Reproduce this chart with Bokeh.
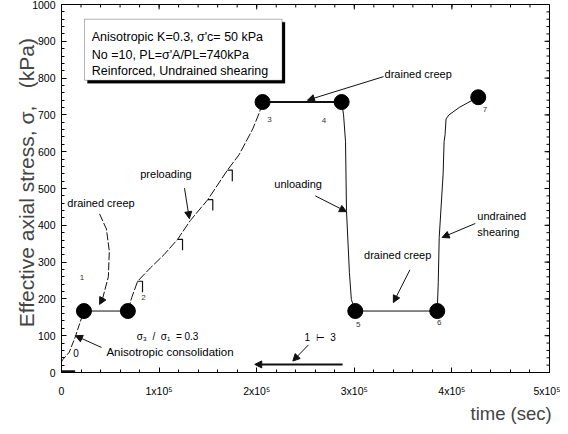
from bokeh.plotting import figure
from bokeh.models import Range1d, Label, Arrow, NormalHead, BoxAnnotation, FixedTicker
from bokeh.embed import file_html
from bokeh.resources import INLINE

# ---------------- data (time in s, effective axial stress in kPa) ----------------
consol_t = [0, 1.3e3, 7.9e3, 1.4e4, 1.9e4, 2.3e4]
consol_s = [29, 35, 55, 96, 136, 167]

creep1_t = [2.3e4, 6.8e4]
creep1_s = [167, 167]

preload_t = [6.8e4, 7.2e4, 7.8e4, 9.1e4, 1.05e5, 1.19e5, 1.32e5, 1.50e5, 1.70e5, 1.82e5, 1.96e5, 2.03e5, 2.06e5]
preload_s = [167, 204, 248, 284, 320, 362, 413, 470, 550, 592, 662, 708, 735]

step_t = [7.8e4, 1.19e5, 1.50e5, 1.70e5]
step_s = [248, 362, 470, 550]

creep2_t = [2.06e5, 2.87e5]
creep2_s = [735, 735]

unload_t = [2.87e5, 2.89e5, 2.91e5, 2.92e5, 2.95e5, 2.97e5, 3.01e5]
unload_s = [735, 700, 627, 440, 271, 198, 167]

creep3_t = [3.01e5, 3.85e5]
creep3_s = [167, 167]

shear_t = [3.85e5, 3.86e5, 3.87e5, 3.91e5, 3.92e5, 3.93e5, 3.94e5, 3.97e5, 4.08e5, 4.21e5, 4.27e5]
shear_s = [167, 244, 367, 539, 627, 646, 689, 700, 721, 740, 748]

base_t = [0, 1.4e4]
base_s = [3, 3]

points_t = [2.3e4, 6.8e4, 2.06e5, 2.87e5, 3.01e5, 3.85e5, 4.27e5]
points_s = [167, 167, 735, 735, 167, 167, 748]

x_ticks = [0, 1e5, 2e5, 3e5, 4e5, 5e5]
x_tick_labels = ["0", "1x10\u2075", "2x10\u2075", "3x10\u2075", "4x10\u2075", "5x10\u2075"]
x_minor = list(range(0, 500001, 20000))
y_ticks = list(range(0, 1001, 100))
y_minor = list(range(0, 1001, 20))

FONT = "Liberation Sans"
INK = "#111111"
NB = "\u00a0"

X0, X1, Y0, Y1 = 0, 5e5, 0, 1000
p = figure(width=560, height=426, x_range=Range1d(X0, X1), y_range=Range1d(Y0, Y1),
           output_backend="svg", toolbar_location=None,
           min_border_left=61, min_border_right=11, min_border_top=4, min_border_bottom=50)
p.grid.visible = False
p.outline_line_color = "black"
p.background_fill_color = "white"
p.border_fill_color = "white"

xa = p.xaxis[0]
ya = p.yaxis[0]
xa.ticker = FixedTicker(ticks=x_ticks, minor_ticks=x_minor)
xa.major_label_overrides = {int(t): l for t, l in zip(x_ticks, x_tick_labels)}
ya.ticker = FixedTicker(ticks=y_ticks, minor_ticks=y_minor)
ya.axis_label = NB * 2 + "Effective axial stress, \u03c3," + NB * 3 + "(kPa)"
ya.axis_label_text_font = FONT
ya.axis_label_text_font_style = "normal"
ya.axis_label_text_font_size = "21px"
ya.axis_label_standoff = -9

xa.axis_label = NB * 80 + "time (sec)"
xa.axis_label_text_font = FONT
xa.axis_label_text_font_style = "normal"
xa.axis_label_text_font_size = "18.5px"
xa.axis_label_standoff = 3

for ax in [xa, ya]:
    ax.major_tick_in = 5
    ax.major_tick_out = 0
    ax.minor_tick_in = 3
    ax.minor_tick_out = 0
    ax.axis_line_color = "black"
    ax.major_tick_line_color = "black"
    ax.minor_tick_line_color = "black"
    ax.major_label_text_font = FONT
    ax.major_label_text_color = "black"
    ax.major_label_text_font_size = "10.5px"
xa.major_label_standoff = 12
ya.major_label_standoff = 6

# mirrored inward ticks on the top and right frame edges (5 px major, 3 px minor)
px_x = (X1 - X0) / 488.0
px_y = (Y1 - Y0) / 372.0
p.segment(x_ticks, [Y1] * len(x_ticks), x_ticks, [Y1 - 5 * px_y] * len(x_ticks), line_color="black", line_width=1)
p.segment(x_minor, [Y1] * len(x_minor), x_minor, [Y1 - 3 * px_y] * len(x_minor), line_color="black", line_width=1)
p.segment([X1] * len(y_ticks), y_ticks, [X1 - 5 * px_x] * len(y_ticks), y_ticks, line_color="black", line_width=1)
p.segment([X1] * len(y_minor), y_minor, [X1 - 3 * px_x] * len(y_minor), y_minor, line_color="black", line_width=1)

# ---------------- curves ----------------
p.line(consol_t, consol_s, line_color=INK, line_width=1, line_dash="7 2")
p.line(creep1_t, creep1_s, line_color=INK, line_width=1)
p.line(preload_t, preload_s, line_color=INK, line_width=1, line_dash="9 2")
p.multi_line([[t, t + 5e3, t + 5e3] for t in step_t], [[s, s, s - 30] for s in step_s],
             line_color=INK, line_width=1.2)
p.line(creep2_t, creep2_s, line_color=INK, line_width=2)
p.line(unload_t, unload_s, line_color=INK, line_width=1)
p.line(creep3_t, creep3_s, line_color=INK, line_width=1)
p.line(shear_t, shear_s, line_color=INK, line_width=1)
p.line(base_t, base_s, line_color=INK, line_width=2.5)
p.scatter(points_t, points_s, size=15, marker="circle", fill_color="black", line_color="black")

# ---------------- annotations ----------------
def lab(x, y, text, size="11px", align="left", color="black"):
    p.add_layout(Label(x=x, y=y, text=text, text_font=FONT, text_font_size=size,
                       text_align=align, text_baseline="middle", text_color=color))

def arr(x0, y0, x1, y1, w=1):
    p.add_layout(Arrow(x_start=x0, y_start=y0, x_end=x1, y_end=y1, line_width=w, line_color=INK,
                       end=NormalHead(size=7, fill_color=INK, line_color=INK)))

# information box with shadow
p.add_layout(BoxAnnotation(left=2.66e4, right=2.29e5, top=952, bottom=786,
                           fill_color="black", fill_alpha=1, line_color="black"))
p.add_layout(BoxAnnotation(left=2.36e4, right=2.26e5, top=960, bottom=794,
                           fill_color="white", fill_alpha=1, line_color="black", line_width=1))
lab(3.1e4, 913, "Anisotropic  K=0.3, \u03c3'c= 50 kPa", "12.5px")
lab(3.1e4, 864, "No =10, PL=\u03c3'A/PL=740kPa", "12.5px")
lab(3.1e4, 818, "Reinforced, Undrained shearing", "12.5px")

# left drained creep with curved arrow
lab(0.6e4, 461, "drained creep")
p.line([3.9e4, 4.6e4, 4.9e4, 4.8e4, 4.2e4], [431, 390, 330, 260, 200], line_color=INK, line_width=1, line_dash="8 2")
arr(4.2e4, 200, 3.9e4, 185)

lab(1.07e5, 539, "preloading", align="center")
arr(1.26e5, 501, 1.31e5, 418)

lab(4.6e4, 56, "Anisotropic consolidation", "11.5px")
arr(4.1e4, 68, 1.43e4, 100)
lab(7.7e4, 97, "\u03c3\u2083" + NB * 2 + "/" + NB * 2 + "\u03c3\u2081" + NB * 2 + "=" + NB + "0.3", "10px")
lab(1.2e4, 53, "0", "10px")

lab(3.31e5, 810, "drained creep")
arr(3.3e5, 804, 2.52e5, 740)

lab(2.18e5, 512, "unloading")
arr(2.6e5, 480, 2.92e5, 437)

lab(4.26e5, 426, "undrained")
lab(4.26e5, 383, "shearing")
arr(4.24e5, 405, 3.9e5, 367)

lab(3.1e5, 319, "drained creep")
arr(3.57e5, 279, 3.4e5, 190)

lab(2.49e5, 95, "1" + NB * 2 + "\u22a2" + NB * 2 + "3", "10px")
arr(2.53e5, 75, 2.37e5, 31)
arr(2.88e5, 22, 1.98e5, 22, w=2)

# point numbers
for t, s, txt in [(2.1e4, 258, "1"), (8.4e4, 205, "2"), (2.13e5, 687, "3"), (2.69e5, 686, "4"),
                  (3.04e5, 131, "5"), (3.87e5, 136, "6"), (4.34e5, 716, "7")]:
    lab(t, s, txt, "8px", align="center", color="#333333")

open("out.html", "w").write(file_html(p, INLINE))
